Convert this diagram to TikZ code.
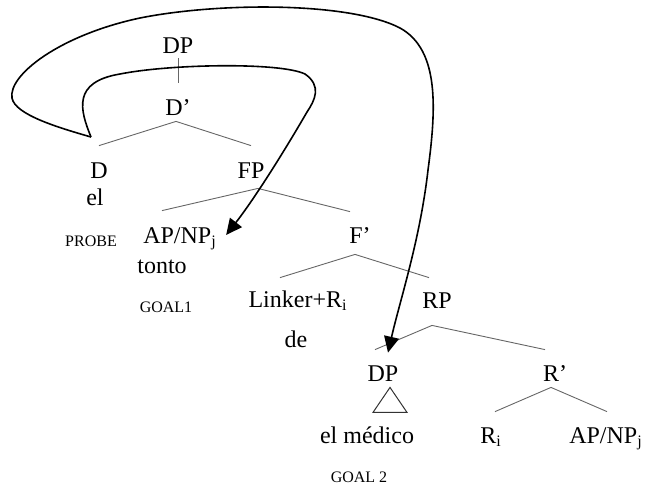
\documentclass[tikz,border=0pt]{standalone}
\usepackage{fontspec}
\setmainfont{Liberation Serif}
\usetikzlibrary{arrows.meta}

\tikzset{
  cat/.style={inner sep=0pt, text height=8pt, text depth=0pt, font=\fontsize{12}{14}\selectfont},
  tag/.style={inner sep=0pt, font=\fontsize{8}{9}\selectfont},
  branch/.style={draw=black!60, line width=0.45pt},
  agree/.style={line width=0.8pt, -{Triangle[length=8pt,width=7.5pt]}},
}

\begin{document}
\begin{tikzpicture}[x=0.5pt, y=-0.5pt]
    \useasboundingbox (0,0) rectangle (646,488);

    % DP spine
    \node[cat] (dp)   at (178,45)  {DP};
    \node[cat] (dbar) at (178,107) {D'};
    \node[cat] (d)    at (99,170)  {D};
    \node[cat] (el)   at (95,197)  {el};
    \node[cat] (fp)   at (251,170) {FP};

    % specifier of FP
    \node[tag] (probe) at (91,241)  {PROBE};
    \node[cat] (ap1)   at (180,235) {AP/NP\textsubscript{j}};
    \node[cat] (tonto) at (162,265) {tonto};
    \node[tag] (goal1) at (166,307) {GOAL1};

    % F' and the linker
    \node[cat] (fbar)   at (360,235) {F'};
    \node[cat] (linker) at (298,299) {Linker+R\textsubscript{i}};
    \node[cat] (de)     at (296,339) {de};
    \node[cat] (rp)     at (437,300) {RP};

    % small clause RP
    \node[cat] (dp2)    at (383,373) {DP};
    \node[cat] (rbar)   at (555,373) {R'};
    \node[cat] (medico) at (367,435) {el médico};
    \node[tag] (goal2)  at (359,477) {GOAL 2};
    \node[cat] (ri)     at (491,435) {R\textsubscript{i}};
    \node[cat] (ap2)    at (606,435) {AP/NP\textsubscript{j}};

    % branches
    \draw[branch, shorten <=2.5pt, shorten >=8pt] (dp.south) -- (dbar.north);
    \draw[branch] ([xshift=-1pt,yshift=-3pt]dbar.south) -- ([yshift=8pt]d.north);
    \draw[branch] ([xshift=-1pt,yshift=-3pt]dbar.south) -- ([yshift=8pt]fp.north);
    \draw[branch] ([xshift=3.5pt,yshift=-5pt]fp.south) -- ([xshift=-9pt,yshift=8pt]ap1.north);
    \draw[branch] ([xshift=3.5pt,yshift=-5pt]fp.south) -- ([xshift=-5pt,yshift=7.5pt]fbar.north);
    \draw[branch] ([xshift=-2.5pt,yshift=-5.5pt]fbar.south) -- ([xshift=-9pt,yshift=6.5pt]linker.north);
    \draw[branch] ([xshift=-2.5pt,yshift=-5.5pt]fbar.south) -- ([xshift=-4pt,yshift=7pt]rp.north);
    \draw[branch] ([xshift=-2.5pt,yshift=-8.5pt]rp.south) -- ([xshift=-4pt,yshift=7.5pt]dp2.north);
    \draw[branch] ([xshift=-2.5pt,yshift=-8.5pt]rp.south) -- ([xshift=-5pt,yshift=7.5pt]rbar.north);
    \draw[branch] ([xshift=-2pt,yshift=-3pt]rbar.south) -- ([xshift=2pt,yshift=7.5pt]ri.north);
    \draw[branch] ([xshift=-2pt,yshift=-3pt]rbar.south) -- ([xshift=0.5pt,yshift=7.5pt]ap2.north);

    % triangle over el medico
    \draw[draw=black!80, line width=0.5pt] ([xshift=3.5pt,yshift=-3pt]dp2.south) -- ++(-8.5pt,-12.5pt) -- ++(17pt,0pt) -- cycle;

    % Agree arrows from the probe D
    \coordinate (dsrc) at (91,137);
    \draw[agree] (dsrc) .. controls (80,110) and (72,82) .. (120,74)
        .. controls (170,64) and (280,62) .. (305,74)
        .. controls (322,86) and (315,100) .. (307,112)
        .. controls (285,150) and (255,198) .. ([xshift=4.5pt,yshift=0pt]ap1.east);
    \draw[agree] (dsrc) .. controls (60,128) and (15,115) .. (12,98)
        .. controls (8,75) and (60,35) .. (140,18)
        .. controls (220,2) and (350,2) .. (400,28)
        .. controls (440,50) and (436,110) .. (428,170)
        .. controls (420,240) and (400,300) .. ([xshift=2.5pt,yshift=6pt]dp2.north);
\end{tikzpicture}
\end{document}
